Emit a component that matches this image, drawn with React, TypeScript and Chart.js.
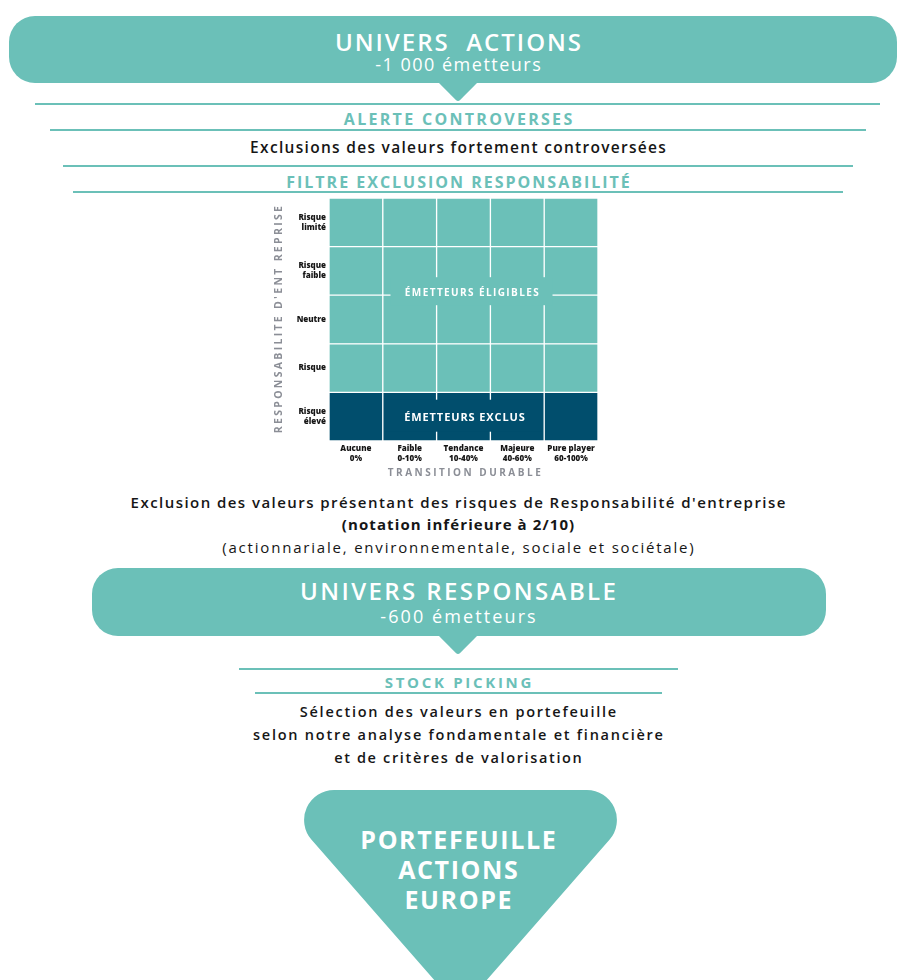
import React, { useEffect, useRef } from "react";
import { Chart, registerables } from "chart.js";

Chart.register(...registerables);

const FONT = "'Open Sans', 'DejaVu Sans', sans-serif";
const TEAL = "#6bc0b8";
const NAVY = "#014e6d";
const GREY = "#8b8e96";
const INK = "#161616";

// Transition durable (x axis categories)
const transitionLabels: string[][] = [
  ["Aucune", "0%"],
  ["Faible", "0-10%"],
  ["Tendance", "10-40%"],
  ["Majeure", "40-60%"],
  ["Pure player", "60-100%"],
];
// Responsabilité d'entreprise rows, bottom to top
const responsabiliteLabels: string[][] = [
  ["Risque", "élevé"],
  ["Risque"],
  ["Neutre"],
  ["Risque", "faible"],
  ["Risque", "limité"],
];
const rowRisqueEleve = [1, 1, 1, 1, 1];
const rowRisque = [1, 1, 1, 1, 1];
const rowNeutre = [1, 1, 1, 1, 1];
const rowRisqueFaible = [1, 1, 1, 1, 1];
const rowRisqueLimite = [1, 1, 1, 1, 1];
const rowExcluded = [true, false, false, false, false];
const eligibleLabel = "ÉMETTEURS ÉLIGIBLES";
const excludedLabel = "ÉMETTEURS EXCLUS";
const xAxisTitle = "TRANSITION DURABLE";
const yAxisTitle = "RESPONSABILITE D'ENT REPRISE";

const rowValues = [rowRisqueEleve, rowRisque, rowNeutre, rowRisqueFaible, rowRisqueLimite];

const overlayPlugin = {
  id: "matrixOverlay",
  afterDatasetsDraw(chart: any) {
    const { ctx, scales } = chart;
    const x = scales.x;
    const y = scales.y;
    ctx.save();
    ctx.textAlign = "center";
    ctx.textBaseline = "middle";
    // eligible label box
    const ex = x.getPixelForValue(2) + 8;
    const ey = y.getPixelForValue(3) - 4;
    ctx.fillStyle = TEAL;
    ctx.fillRect(ex - 81, ey - 14, 162, 28);
    ctx.font = `700 10px ${FONT}`;
    (ctx as any).letterSpacing = "1.4px";
    ctx.fillStyle = "#ffffff";
    ctx.fillText(eligibleLabel, ex + 1, ey + 1.5);
    // excluded label box
    const xx = x.getPixelForValue(2);
    const xy = y.getPixelForValue(0.5);
    ctx.fillStyle = NAVY;
    ctx.fillRect(xx - 78.5, xy - 17, 157, 32);
    ctx.font = `700 11px ${FONT}`;
    (ctx as any).letterSpacing = "0.9px";
    ctx.fillStyle = "#ffffff";
    ctx.fillText(excludedLabel, xx + 1.5, xy + 1);
    ctx.restore();
  },
  afterDraw(chart: any) {
    const { ctx, chartArea } = chart;
    ctx.save();
    ctx.fillStyle = GREY;
    ctx.textAlign = "center";
    ctx.textBaseline = "middle";
    ctx.font = `700 10px ${FONT}`;
    (ctx as any).letterSpacing = "2.5px";
    ctx.fillText(xAxisTitle, (chartArea.left + chartArea.right) / 2 + 2, chartArea.bottom + 32);
    ctx.translate(chartArea.left - 50, (chartArea.top + chartArea.bottom) / 2);
    ctx.rotate(-Math.PI / 2);
    ctx.font = `700 10.5px ${FONT}`;
    (ctx as any).letterSpacing = "2.3px";
    ctx.fillText(yAxisTitle, 1, 0);
    ctx.restore();
  },
};

function MatrixChart() {
  const ref = useRef<HTMLCanvasElement | null>(null);
  useEffect(() => {
    if (!ref.current) return;
    const tickFont = { family: FONT, size: 8, weight: 800 as any, lineHeight: 1.25 };
    const chart = new Chart(ref.current, {
      type: "bar",
      data: {
        labels: transitionLabels,
        datasets: rowValues.map((vals, i) => ({
          label: responsabiliteLabels[i].join(" "),
          data: vals,
          backgroundColor: rowExcluded[i] ? NAVY : TEAL,
          borderColor: "#ffffff",
          borderWidth: 1,
          borderSkipped: false,
          barPercentage: 1,
          categoryPercentage: 1,
        })),
      },
      options: {
        animation: false,
        responsive: false,
        maintainAspectRatio: false,
        layout: { padding: { top: 8, right: 12, left: 0, bottom: 0 } },
        plugins: { legend: { display: false }, tooltip: { enabled: false }, title: { display: false } },
        scales: {
          x: {
            stacked: true,
            grid: { display: false, drawTicks: false },
            border: { display: false },
            ticks: { font: tickFont, color: INK, padding: 3, maxRotation: 0, minRotation: 0, autoSkip: false },
            afterFit: (s: any) => {
              s.height = 49;
              s.paddingLeft = 0;
              s.paddingRight = 0;
            },
          },
          y: {
            stacked: true,
            min: 0,
            max: 5,
            grid: { display: false, drawTicks: false },
            border: { display: false },
            afterBuildTicks: (s: any) => {
              s.ticks = responsabiliteLabels.map((_, i) => ({ value: i + 0.5 }));
            },
            ticks: {
              font: tickFont,
              color: INK,
              padding: 3,
              autoSkip: false,
              callback: (v: any) => responsabiliteLabels[Math.floor(Number(v))],
            },
            afterFit: (s: any) => {
              s.width = 79;
              s.paddingTop = 0;
              s.paddingBottom = 0;
            },
          },
        },
      },
      plugins: [overlayPlugin],
    });
    return () => chart.destroy();
  }, []);
  return (
    <canvas
      ref={ref}
      width={360}
      height={300}
      style={{ position: "absolute", left: 250, top: 190, width: 360, height: 300 }}
    />
  );
}

function roundedPath(pts: number[][], radii: number[]) {
  const n = pts.length;
  let d = "";
  for (let i = 0; i < n; i++) {
    const p = pts[i];
    const prev = pts[(i - 1 + n) % n];
    const next = pts[(i + 1) % n];
    const v1x = prev[0] - p[0], v1y = prev[1] - p[1];
    const v2x = next[0] - p[0], v2y = next[1] - p[1];
    const l1 = Math.hypot(v1x, v1y), l2 = Math.hypot(v2x, v2y);
    const ang = Math.acos((v1x * v2x + v1y * v2y) / (l1 * l2));
    const r = radii[i];
    const t = r / Math.tan(ang / 2);
    const ax = p[0] + (v1x / l1) * t, ay = p[1] + (v1y / l1) * t;
    const bx = p[0] + (v2x / l2) * t, by = p[1] + (v2y / l2) * t;
    d += `${i === 0 ? "M" : "L"}${ax.toFixed(2)},${ay.toFixed(2)} A${r},${r} 0 0 1 ${bx.toFixed(2)},${by.toFixed(2)} `;
  }
  return d + "Z";
}

const CX = 458;

function Txt(props: {
  cy: number;
  size: number;
  weight?: number;
  color?: string;
  ls?: number;
  children: React.ReactNode;
}) {
  const lh = 22;
  return (
    <div
      style={{
        position: "absolute",
        left: CX - 449,
        width: 898,
        top: props.cy - lh / 2,
        height: lh,
        lineHeight: `${lh}px`,
        textAlign: "center",
        fontFamily: FONT,
        fontSize: props.size,
        fontWeight: props.weight ?? 400,
        color: props.color ?? INK,
        letterSpacing: props.ls ? `${props.ls}px` : undefined,
        textIndent: props.ls ? `${props.ls}px` : undefined,
        whiteSpace: "pre",
      }}
    >
      {props.children}
    </div>
  );
}

function HLine(props: { y: number; x1: number; x2: number }) {
  return (
    <div
      style={{
        position: "absolute",
        left: props.x1,
        width: props.x2 - props.x1,
        top: props.y - 1,
        height: 2,
        background: TEAL,
      }}
    />
  );
}

export default function App() {
  return (
    <div
      style={{
        position: "absolute",
        left: 0,
        top: 0,
        width: 898,
        height: 980,
        overflow: "hidden",
        background: "#ffffff",
        fontFamily: FONT,
      }}
    >
      <svg width={898} height={980} style={{ position: "absolute", left: 0, top: 0 }}>
        <rect x={9} y={16} width={888} height={67} rx={26} ry={26} fill={TEAL} />
        <path d={roundedPath([[436, 80], [480, 80], [458, 102]], [0, 0, 3])} fill={TEAL} />
        <rect x={92} y={568} width={734} height={68} rx={26} ry={26} fill={TEAL} />
        <path d={roundedPath([[436, 633], [480, 633], [458, 655]], [0, 0, 3])} fill={TEAL} />
        <path d={roundedPath([[268, 790], [653, 790], [460.5, 1010]], [30, 30, 22])} fill={TEAL} />
      </svg>

      <Txt cy={42} size={24} weight={600} color="#ffffff" ls={2}>{"UNIVERS  ACTIONS"}</Txt>
      <Txt cy={64} size={18} weight={400} color="#ffffff" ls={1.5}>-1 000 émetteurs</Txt>

      <HLine y={104} x1={35} x2={880} />
      <Txt cy={119} size={16} weight={700} color={TEAL} ls={2.3}>ALERTE CONTROVERSES</Txt>
      <HLine y={130} x1={50} x2={866} />
      <Txt cy={147} size={15.5} weight={600} ls={1.3}>Exclusions des valeurs fortement controversées</Txt>
      <HLine y={166} x1={63} x2={853} />
      <Txt cy={182} size={16} weight={700} color={TEAL} ls={2}>FILTRE EXCLUSION RESPONSABILITÉ</Txt>
      <HLine y={192} x1={73} x2={843} />

      <MatrixChart />

      <Txt cy={502} size={15} weight={600} ls={1.45}>Exclusion des valeurs présentant des risques de Responsabilité d'entreprise</Txt>
      <Txt cy={524} size={15} weight={700} ls={1.1}>(notation inférieure à 2/10)</Txt>
      <Txt cy={547} size={15} weight={500} ls={1.8}>(actionnariale, environnementale, sociale et sociétale)</Txt>

      <Txt cy={591} size={24} weight={600} color="#ffffff" ls={2.4}>UNIVERS RESPONSABLE</Txt>
      <Txt cy={616} size={18} weight={400} color="#ffffff" ls={2.1}>-600 émetteurs</Txt>

      <HLine y={669} x1={239} x2={678} />
      <Txt cy={681.5} size={15} weight={700} color={TEAL} ls={2.7}>STOCK PICKING</Txt>
      <HLine y={693} x1={255} x2={662} />
      <Txt cy={712} size={14.5} weight={600} ls={1.75}>Sélection des valeurs en portefeuille</Txt>
      <Txt cy={735} size={14.5} weight={600} ls={1.75}>selon notre analyse fondamentale et financière</Txt>
      <Txt cy={758} size={14.5} weight={600} ls={1.65}>et de critères de valorisation</Txt>

      <Txt cy={839} size={25} weight={700} color="#ffffff" ls={1.6}>PORTEFEUILLE</Txt>
      <Txt cy={869} size={25} weight={700} color="#ffffff" ls={1.6}>ACTIONS</Txt>
      <Txt cy={899} size={25} weight={700} color="#ffffff" ls={1.6}>EUROPE</Txt>
    </div>
  );
}
